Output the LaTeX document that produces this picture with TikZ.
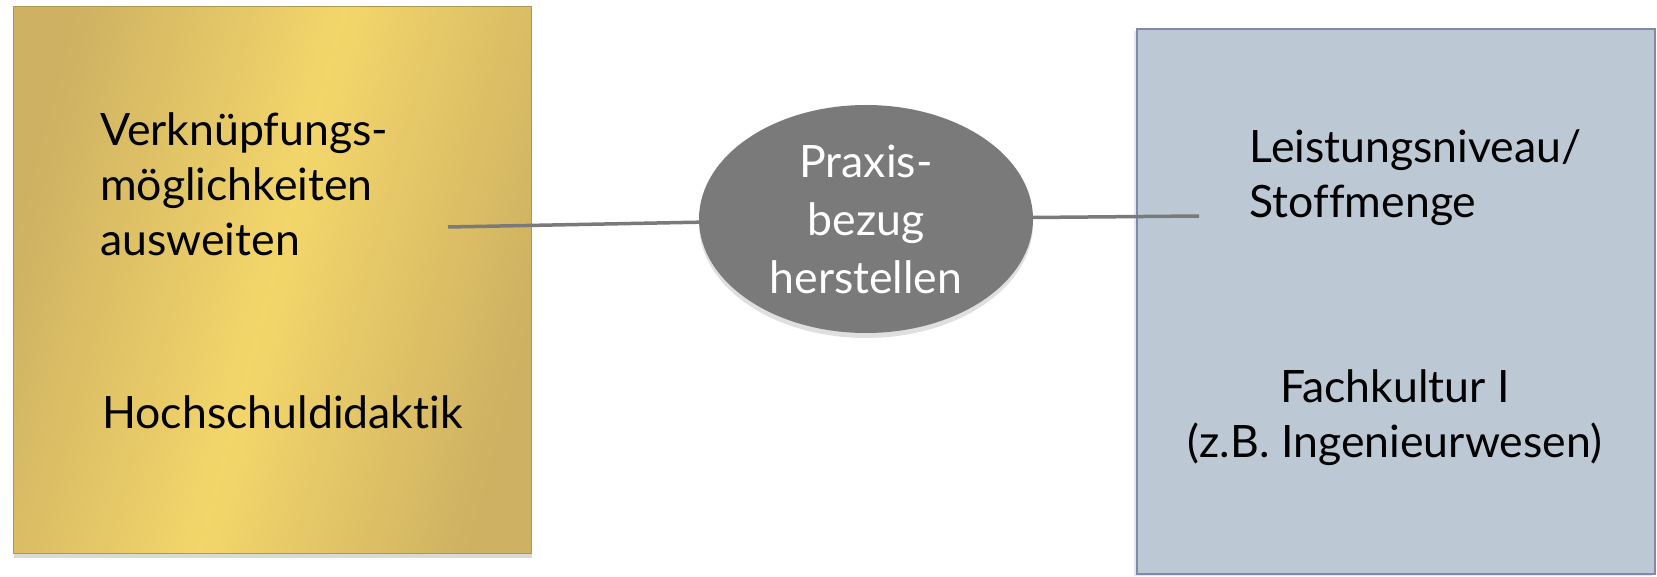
\documentclass[tikz,border=0pt]{standalone}
\usepackage{fontspec}
\setmainfont{Lato}[Ligatures=NoCommon]
\usetikzlibrary{shapes.geometric,shadows}

\definecolor{golddark}{RGB}{206,177,98}
\definecolor{goldlight}{RGB}{243,214,106}
\definecolor{slatefill}{RGB}{188,201,213}
\definecolor{slateline}{RGB}{128,137,172}
\definecolor{bubblegray}{RGB}{122,122,122}
\definecolor{linkgray}{RGB}{122,122,122}

\begin{document}
\begin{tikzpicture}[x=1pt,y=-1pt,
    txt/.style={inner sep=0pt,font=\fontsize{44.6}{55}\selectfont},
    goldbox/.style={draw=golddark!85!black,line width=1pt,
        left color=golddark,right color=golddark,middle color=goldlight,
        shading angle=75,inner sep=0pt,
        drop shadow={shadow xshift=1pt,shadow yshift=-5pt,opacity=0.3}},
    slatebox/.style={draw=slateline,fill=slatefill,line width=2pt,inner sep=0pt,
        drop shadow={shadow xshift=-3pt,shadow yshift=-2pt,opacity=0.2}},
    bubble/.style={ellipse,fill=bubblegray,inner sep=0pt,text=white,
        font=\fontsize{44.6}{58}\selectfont,align=center,
        drop shadow={shadow xshift=0pt,shadow yshift=-5pt,opacity=0.25}},
    link/.style={draw=linkgray,line width=3.5pt}]

\useasboundingbox (0,0) rectangle (1657,577);

\node[goldbox,minimum width=518pt,minimum height=546pt] (didaktik) at (272,280) {};
\node[slatebox,minimum width=518pt,minimum height=545pt] (fachkultur) at (1396,301.5) {};

\node[bubble,minimum width=334pt,minimum height=228pt] (praxis) at (866,219) {Praxis-\\bezug\\herstellen};

\node[txt,anchor=base west,align=left] (verkn) at (100,256) {Verknüpfungs-\\möglichkeiten\\ausweiten};
\node[txt,anchor=base west] (hsd) at (102,428) {Hochschuldidaktik};
\node[txt,anchor=base west,align=left] (niveau) at (1249.5,217.5) {Leistungsniveau/\\Stoffmenge};
\node[txt,anchor=base,align=center] (fach) at (1395,457) {Fachkultur I\\(z.B. Ingenieurwesen)};

\coordinate (linkL) at (448,227);
\coordinate (linkR) at (1199,216);

\path [link]
    (linkL) -- (praxis)
    (praxis) -- (linkR)
;

\end{tikzpicture}
\end{document}
